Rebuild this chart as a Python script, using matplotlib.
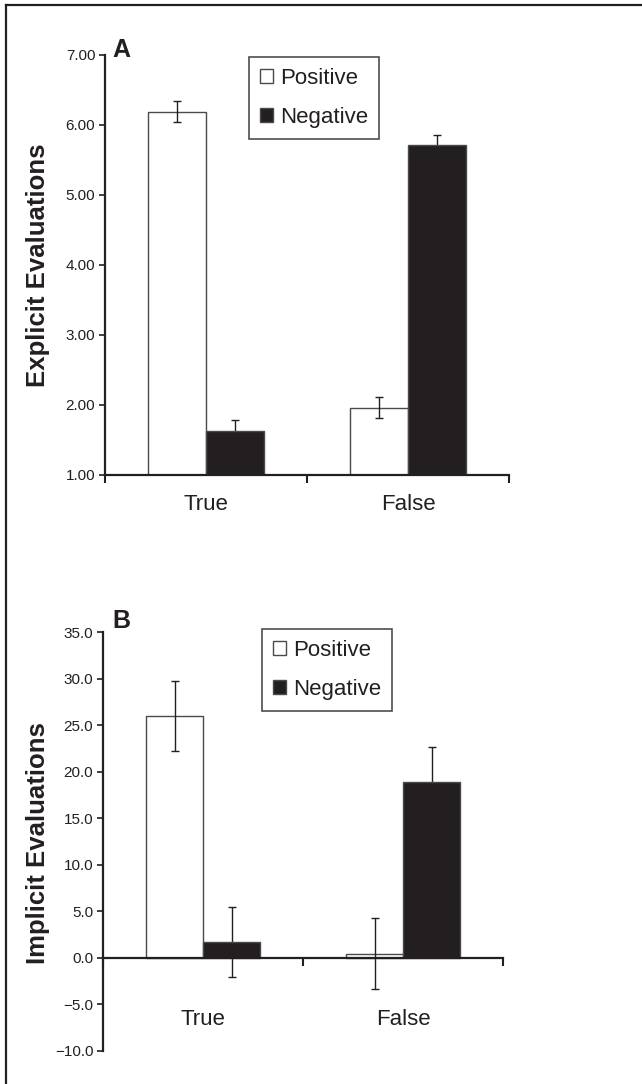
import numpy as np
import matplotlib
matplotlib.use('Agg')
import matplotlib.pyplot as plt
from matplotlib.lines import Line2D

plt.rcParams['font.family'] = ['Liberation Sans', 'DejaVu Sans']

# data
categories = ['True', 'False']
series = ['Positive', 'Negative']

explicit_pos = [6.19, 1.96]
explicit_neg = [1.63, 5.72]
explicit_pos_err = [0.15, 0.15]
explicit_neg_err = [0.15, 0.14]

implicit_pos = [26.0, 0.45]
implicit_neg = [1.7, 18.9]
implicit_pos_err = [3.75, 3.8]
implicit_neg_err = [3.8, 3.8]

ink = '#231f20'
W, H = 642, 1084
fig = plt.figure(figsize=(W / 100, H / 100), dpi=100)

# outer frame (top and left only)
fig.add_artist(Line2D([6 / W, 1.0], [1 - 5 / H, 1 - 5 / H], transform=fig.transFigure, color=ink, lw=1.6))
fig.add_artist(Line2D([6 / W, 6 / W], [0, 1 - 5 / H], transform=fig.transFigure, color=ink, lw=1.6))


def panel(rect, pos, neg, pos_err, neg_err, ylim, yticks, yfmt, ylabel, ylab_y, letter, letter_xy, leg_xy, label_pad, zero_axis):
    ax = fig.add_axes(rect)
    x = np.arange(len(categories))
    w = 0.285
    ax.bar(x - w / 2, pos, w, color='white', edgecolor='#4a4a4a', lw=1.0, label=series[0], zorder=2)
    ax.bar(x + w / 2, neg, w, color=ink, edgecolor='#4a4a4a', lw=1.0, label=series[1], zorder=2)
    ax.errorbar(x - w / 2, pos, yerr=pos_err, fmt='none', ecolor=ink, elinewidth=1.0, capsize=3, capthick=1.0, zorder=3)
    ax.errorbar(x + w / 2, neg, yerr=neg_err, fmt='none', ecolor=ink, elinewidth=1.0, capsize=3, capthick=1.0, zorder=1)

    ax.set_xlim(-0.5, 1.5)
    ax.set_ylim(*ylim)
    ax.set_yticks(yticks)
    ax.set_yticklabels([yfmt.format(v).replace('-', '\u2212') for v in yticks])
    ax.tick_params(axis='y', direction='out', length=4, width=1.2, pad=3, labelsize=11, colors=ink)

    ax.set_xticks([-0.5, 0.5, 1.5])
    ax.set_xticklabels(['', '', ''])
    ax.tick_params(axis='x', which='major', direction='out', length=6, width=1.5, colors=ink)
    ax.set_xticks(x, minor=True)
    ax.set_xticklabels(categories, minor=True)
    ax.tick_params(axis='x', which='minor', length=0, pad=label_pad, labelsize=16, colors=ink)

    for s in ['top', 'right']:
        ax.spines[s].set_visible(False)
    for s in ['left', 'bottom']:
        ax.spines[s].set_linewidth(1.6)
        ax.spines[s].set_color(ink)
    if zero_axis:
        ax.spines['bottom'].set_position(('data', 0))

    fig.text(38 / W, 1 - ylab_y / H, ylabel, rotation=90, ha='center', va='center',
             fontsize=18.5, fontweight='bold', color=ink)
    fig.text(letter_xy[0] / W, 1 - letter_xy[1] / H, letter, ha='left', va='baseline',
             fontsize=18, fontweight='bold', color=ink)

    leg = ax.legend(loc='upper left', bbox_to_anchor=(leg_xy[0] / W, 1 - leg_xy[1] / H),
                    bbox_transform=fig.transFigure, fontsize=16, frameon=True, fancybox=False,
                    handlelength=0.6, handleheight=0.6, handletextpad=0.3, labelspacing=0.8,
                    borderpad=0.5, borderaxespad=0)
    leg.get_frame().set_edgecolor(ink)
    leg.get_frame().set_linewidth(1.2)
    for t in leg.get_texts():
        t.set_color(ink)
    return ax


panel([105 / W, 1 - 475 / H, 404 / W, 420 / H],
      explicit_pos, explicit_neg, explicit_pos_err, explicit_neg_err,
      (1, 7), [1, 2, 3, 4, 5, 6, 7], '{:.2f}', 'Explicit Evaluations', 265,
      'A', (112, 57), (249, 57), 14, False)

panel([103 / W, 1 - 1051 / H, 400 / W, 418.7 / H],
      implicit_pos, implicit_neg, implicit_pos_err, implicit_neg_err,
      (-10, 35), [-10, -5, 0, 5, 10, 15, 20, 25, 30, 35], '{:.1f}', 'Implicit Evaluations', 843,
      'B', (112, 628), (262, 629), 37, True)

fig.savefig('out.png', dpi=100)
